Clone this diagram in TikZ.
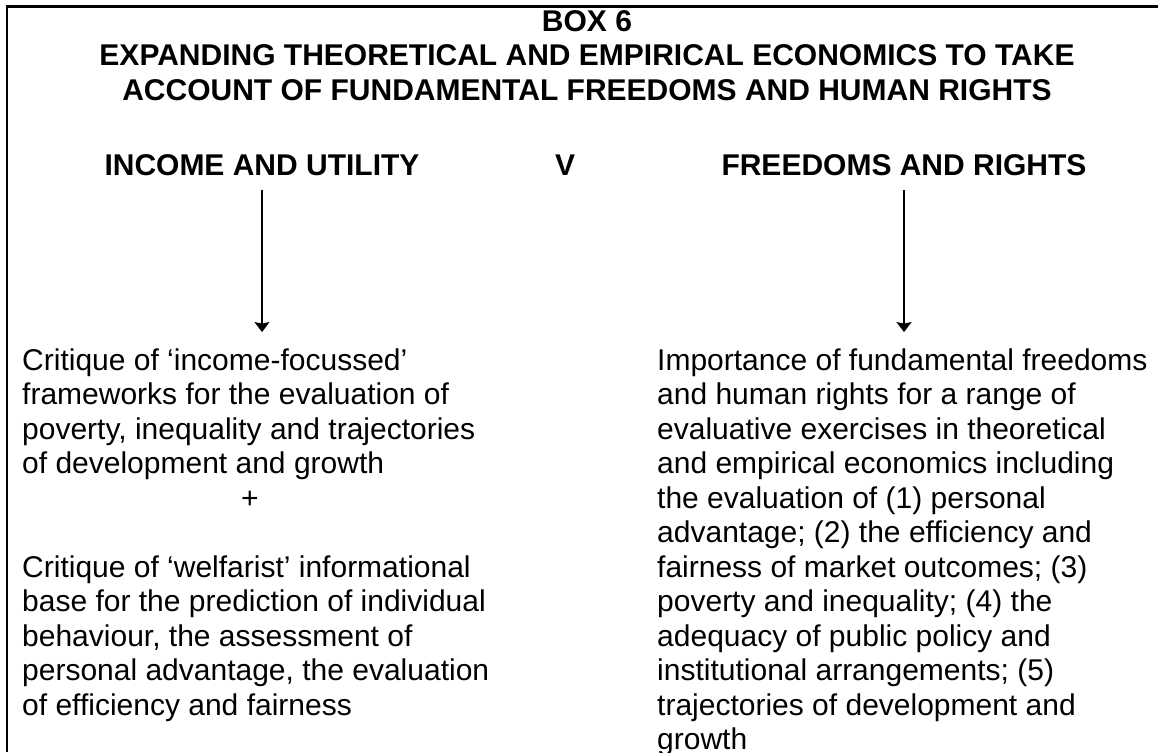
\documentclass[tikz,border=0pt]{standalone}
\usepackage{fontspec}
\setmainfont{Liberation Sans}
\usetikzlibrary{arrows.meta}
\begin{document}
\begin{tikzpicture}[x=1pt,y=-1pt,
  titletext/.style={font=\fontsize{30}{34.5}\selectfont\bfseries, inner sep=0pt, anchor=base},
  bodytext/.style={font=\fontsize{30}{34.5}\selectfont, inner sep=0pt, anchor=base west},
  plustext/.style={font=\fontsize{30}{34.5}\selectfont, inner sep=0pt, anchor=base},
  arr/.style={-{Stealth[length=10pt,width=15pt,inset=1.5pt]}, line width=1.5pt},
  framelines/.style={line width=2.5pt}]
\useasboundingbox (0,0) rectangle (1158,752);
\draw[framelines] (1158,6.5) -- (7,6.5) -- (7,752);
\node[titletext] (t1) at (587,32) {BOX 6};
\node[titletext] (t2) at (587,66) {EXPANDING THEORETICAL AND EMPIRICAL ECONOMICS TO TAKE};
\node[titletext] (t3) at (587,100) {ACCOUNT OF FUNDAMENTAL FREEDOMS AND HUMAN RIGHTS};
\node[titletext] (inc) at (262,175) {INCOME AND UTILITY};
\node[titletext] (vs) at (565,175) {V};
\node[titletext] (fr) at (904,175) {FREEDOMS AND RIGHTS};
\node[bodytext] (crit1) at (22,370) {\parbox[t]{560pt}{\raggedright
Critique of ‘income-focussed’\\
frameworks for the evaluation of\\
poverty, inequality and trajectories\\
of development and growth}};
\node[plustext] (plus) at (250,508) {+};
\node[bodytext] (crit2) at (22,577) {\parbox[t]{560pt}{\raggedright
Critique of ‘welfarist’ informational\\
base for the prediction of individual\\
behaviour, the assessment of\\
personal advantage, the evaluation\\
of efficiency and fairness}};
\node[bodytext] (imp) at (657,370) {\parbox[t]{500pt}{\raggedright
Importance of fundamental freedoms\\
and human rights for a range of\\
evaluative exercises in theoretical\\
and empirical economics including\\
the evaluation of (1) personal\\
advantage; (2) the efficiency and\\
fairness of market outcomes; (3)\\
poverty and inequality; (4) the\\
adequacy of public policy and\\
institutional arrangements; (5)\\
trajectories of development and\\
growth}};
\draw[arr, shorten <=15pt, shorten >=16pt] (inc.south) -- (inc.south |- crit1.north);
\draw[arr, shorten <=15pt, shorten >=16pt] (fr.south) -- (fr.south |- imp.north);
\end{tikzpicture}
\end{document}
